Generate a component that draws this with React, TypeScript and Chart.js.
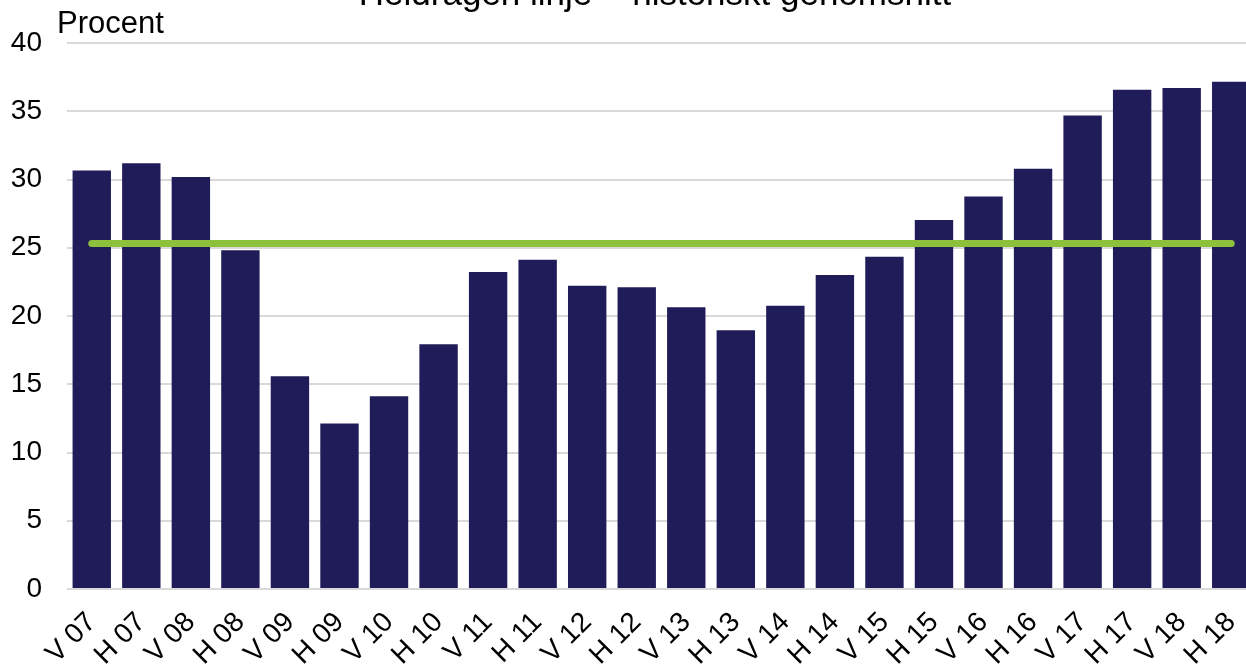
import React, { useEffect, useRef } from "react";
import { Chart, registerables } from "chart.js";

Chart.register(...registerables);

const categories = [
  "V 07", "H 07", "V 08", "H 08", "V 09", "H 09", "V 10", "H 10",
  "V 11", "H 11", "V 12", "H 12", "V 13", "H 13", "V 14", "H 14",
  "V 15", "H 15", "V 16", "H 16", "V 17", "H 17", "V 18", "H 18",
];

const values = [
  30.66, 31.19, 30.19, 24.81, 15.59, 12.12, 14.13, 17.93,
  23.22, 24.12, 22.22, 22.1, 20.64, 18.95, 20.75, 23.0,
  24.34, 27.04, 28.76, 30.78, 34.68, 36.58, 36.7, 37.17,
];

const historicalAverage = 25.32;

const yTicks = { min: 0, max: 40, step: 5 };

const titleText = "Heldragen linje = historiskt genomsnitt";
const unitText = "Procent";

const FONT = "'Liberation Sans', Arial, sans-serif";

const textPlugin = {
  id: "extraText",
  afterDraw(chart: any) {
    const ctx = chart.ctx;
    ctx.save();
    ctx.fillStyle = "#000";
    ctx.textBaseline = "alphabetic";
    ctx.font = `35px ${FONT}`;
    ctx.textAlign = "center";
    ctx.fillText(titleText, 655, 5);
    ctx.font = `31px ${FONT}`;
    ctx.textAlign = "left";
    ctx.fillText(unitText, 57, 33);
    ctx.restore();
  },
};

export default function App() {
  const ref = useRef<HTMLCanvasElement | null>(null);

  useEffect(() => {
    if (!ref.current) return;
    const chart = new Chart(ref.current, {
      type: "bar",
      data: {
        labels: categories,
        datasets: [
          {
            type: "line",
            data: categories.map(() => historicalAverage),
            borderColor: "#8DC03B",
            borderWidth: 7,
            borderCapStyle: "round",
            pointRadius: 0,
            fill: false,
            order: 0,
          } as any,
          {
            type: "bar",
            data: values,
            backgroundColor: "#201C5A",
            borderWidth: 0,
            categoryPercentage: 1,
            barPercentage: 0.775,
            order: 1,
          },
        ],
      },
      options: {
        responsive: false,
        animation: false,
        devicePixelRatio: 1,
        layout: { padding: { top: 43, left: 0, right: 0, bottom: 0 } },
        plugins: {
          legend: { display: false },
          tooltip: { enabled: false },
          title: { display: false },
        },
        scales: {
          x: {
            grid: { display: false },
            border: { display: false },
            ticks: {
              autoSkip: false,
              maxRotation: 45,
              minRotation: 45,
              color: "#000",
              font: { family: FONT, size: 28 },
              padding: 9,
            },
            afterFit(scale: any) {
              scale.height = 80;
              scale.paddingLeft = 0;
              scale.paddingRight = 0;
            },
          },
          y: {
            min: yTicks.min,
            max: yTicks.max,
            border: { display: false },
            grid: { color: "#d9d9d9", lineWidth: 2, drawTicks: false },
            ticks: {
              stepSize: yTicks.step,
              color: "#000",
              font: { family: FONT, size: 28 },
              padding: 25,
            },
            afterFit(scale: any) {
              scale.width = 67;
            },
          },
        },
      },
      plugins: [textPlugin],
    });
    return () => chart.destroy();
  }, []);

  return (
    <div
      style={{
        position: "fixed",
        left: 0,
        top: 0,
        width: 1246,
        height: 669,
        overflow: "hidden",
        background: "#fff",
      }}
    >
      <canvas ref={ref} width={1256} height={669} style={{ display: "block" }} />
    </div>
  );
}
